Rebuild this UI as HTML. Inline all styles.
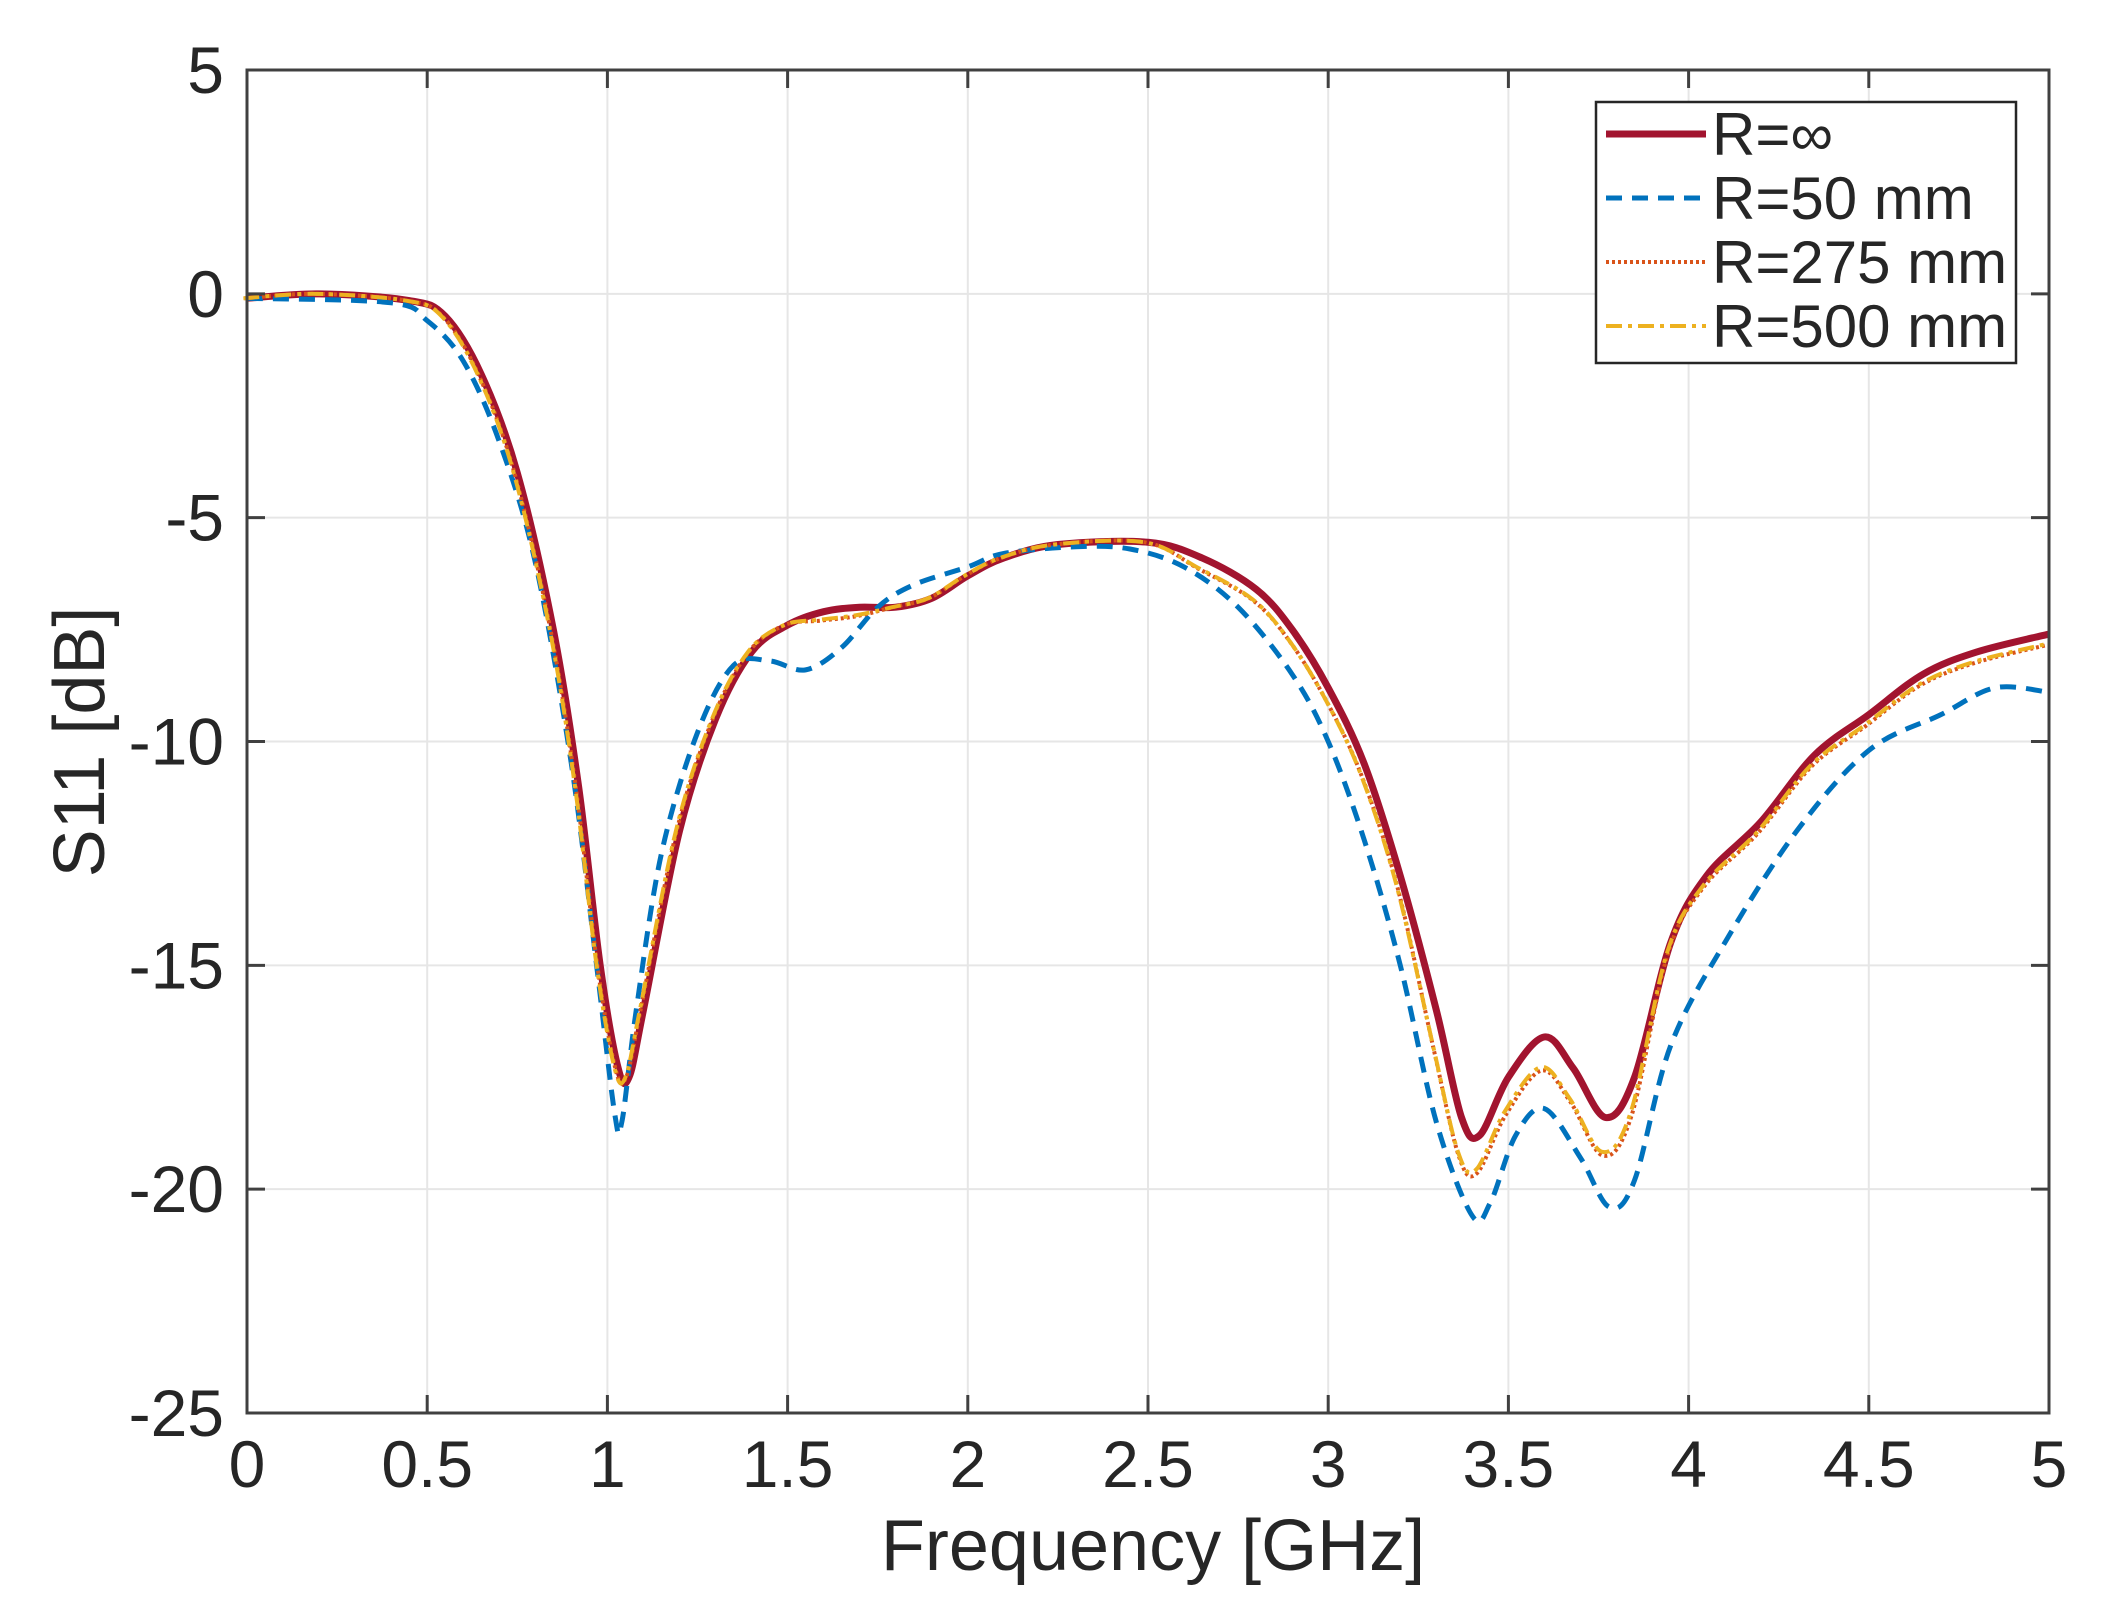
<!DOCTYPE html>
<html><head><meta charset="utf-8"><style>
body{margin:0;background:#fff}
svg{display:block}
text{font-family:"Liberation Sans",sans-serif;fill:#262626}
</style></head><body>
<svg id="s" width="2108" height="1615" xmlns="http://www.w3.org/2000/svg">
<rect width="2108" height="1615" fill="#fff"/>
<g id="grid" stroke="#e6e6e6" stroke-width="2"></g>
<g id="curves" fill="none" stroke-linejoin="round" stroke-linecap="butt"></g>
<rect x="247" y="70" width="1802" height="1343" fill="none" stroke="#404040" stroke-width="3"/>
<g id="ticks" stroke="#404040" stroke-width="3"></g>
<g id="labels" font-size="66"></g>
<text x="1153" y="1570" font-size="72" text-anchor="middle">Frequency [GHz]</text>
<text transform="translate(104,742) rotate(-90)" font-size="72" text-anchor="middle">S11 [dB]</text>
<rect x="1596" y="102" width="420" height="261" fill="#fff" stroke="#262626" stroke-width="2.5"/>
<g font-size="60">
<line x1="1606" y1="134" x2="1706" y2="134" stroke="#A2142F" stroke-width="7"/>
<text x="1712" y="155">R=∞</text>
<line x1="1606" y1="198" x2="1706" y2="198" stroke="#0072BD" stroke-width="5" stroke-dasharray="16,10"/>
<text x="1712" y="219">R=50 mm</text>
<line x1="1606" y1="262" x2="1706" y2="262" stroke="#D95319" stroke-width="4" stroke-dasharray="3,3"/>
<text x="1712" y="283">R=275 mm</text>
<line x1="1606" y1="326" x2="1706" y2="326" stroke="#EDB120" stroke-width="4" stroke-dasharray="16,6,4,6"/>
<text x="1712" y="347">R=500 mm</text>
</g>
</svg>
<script>
var X=f=>247+f*360.4, Y=d=>70+(5-d)*44.767, NS="http://www.w3.org/2000/svg";
function el(p,t,a,txt){var e=document.createElementNS(NS,t);for(var k in a)e.setAttribute(k,a[k]);if(txt!=null)e.textContent=txt;document.getElementById(p).appendChild(e);}
for(var i=0;i<=10;i++){var x=X(i*0.5);el('grid','line',{x1:x,y1:70,x2:x,y2:1413});el('ticks','line',{x1:x,y1:1413,x2:x,y2:1395});el('ticks','line',{x1:x,y1:70,x2:x,y2:88});
el('labels','text',{x:x,y:1487,'text-anchor':'middle'},String(i*0.5));}
for(var d=5;d>=-25;d-=5){var y=Y(d);el('grid','line',{x1:247,y1:y,x2:2049,y2:y});el('ticks','line',{x1:247,y1:y,x2:265,y2:y});el('ticks','line',{x1:2049,y1:y,x2:2031,y2:y});
el('labels','text',{x:224,y:y+23,'text-anchor':'end'},String(d));}
function path(pts){var p=pts.map(q=>[X(q[0]),Y(q[1])]);var s="M"+p[0][0]+","+p[0][1];
for(var i=0;i<p.length-1;i++){var p0=p[i-1]||p[i],p1=p[i],p2=p[i+1],p3=p[i+2]||p2;
s+=" C"+(p1[0]+(p2[0]-p0[0])/6)+","+(p1[1]+(p2[1]-p0[1])/6)+" "+(p2[0]-(p3[0]-p1[0])/6)+","+(p2[1]-(p3[1]-p1[1])/6)+" "+p2[0]+","+p2[1];}return s;}
var red=[[0,-0.1],[0.2,0],[0.45,-0.15],[0.55,-0.5],[0.65,-1.8],[0.75,-4],[0.85,-7.5],[0.92,-11],[0.98,-15],[1.03,-17.3],[1.06,-17.5],[1.1,-16],[1.2,-12],[1.3,-9.5],[1.4,-8],[1.5,-7.4],[1.6,-7.1],[1.7,-7.0],[1.8,-7.0],[1.9,-6.8],[2.0,-6.3],[2.1,-5.9],[2.25,-5.6],[2.5,-5.55],[2.65,-5.9],[2.8,-6.6],[2.9,-7.5],[3.0,-8.8],[3.1,-10.5],[3.2,-13],[3.3,-16],[3.37,-18.4],[3.42,-18.8],[3.5,-17.5],[3.6,-16.6],[3.68,-17.3],[3.77,-18.4],[3.85,-17.5],[3.95,-14.5],[4.05,-13],[4.2,-11.8],[4.35,-10.3],[4.5,-9.4],[4.65,-8.5],[4.8,-8.0],[5,-7.6]];
var blue=[[0,-0.1],[0.4,-0.2],[0.5,-0.6],[0.6,-1.5],[0.7,-3.3],[0.8,-6],[0.9,-10.5],[0.97,-15],[1.02,-18.3],[1.04,-18.5],[1.08,-16],[1.15,-12.5],[1.25,-9.8],[1.35,-8.3],[1.45,-8.2],[1.55,-8.4],[1.65,-7.9],[1.75,-7.0],[1.85,-6.5],[2.0,-6.1],[2.1,-5.8],[2.3,-5.65],[2.45,-5.7],[2.6,-6.1],[2.75,-7.0],[2.9,-8.5],[3.0,-10.0],[3.1,-12.2],[3.2,-15.0],[3.3,-18.5],[3.4,-20.6],[3.45,-20.3],[3.52,-18.8],[3.6,-18.2],[3.7,-19.3],[3.78,-20.4],[3.85,-19.8],[3.95,-16.8],[4.1,-14.5],[4.3,-12.0],[4.5,-10.2],[4.7,-9.4],[4.85,-8.8],[5,-8.9]];
function mix(t,dx){return red.map((q,i)=>{var d=q[1];if(q[0]>3.2&&q[0]<3.95)d-=t*(q[0]>3.5&&q[0]<3.7?0.5:0.6);if(q[0]>1.5&&q[0]<1.8)d-=0.2*t;if(q[0]>2.6)d-=0.25*t;return [q[0]-dx,d];});}
el('curves','path',{d:path(red),stroke:'#A2142F','stroke-width':7});
el('curves','path',{d:path(blue),stroke:'#0072BD','stroke-width':5,'stroke-dasharray':'16,10'});
el('curves','path',{d:path(mix(1,0.008)),stroke:'#D95319','stroke-width':4,'stroke-dasharray':'3,3'});
el('curves','path',{d:path(mix(0.9,0.01)),stroke:'#EDB120','stroke-width':4,'stroke-dasharray':'16,6,4,6'});
</script>
</body></html>
